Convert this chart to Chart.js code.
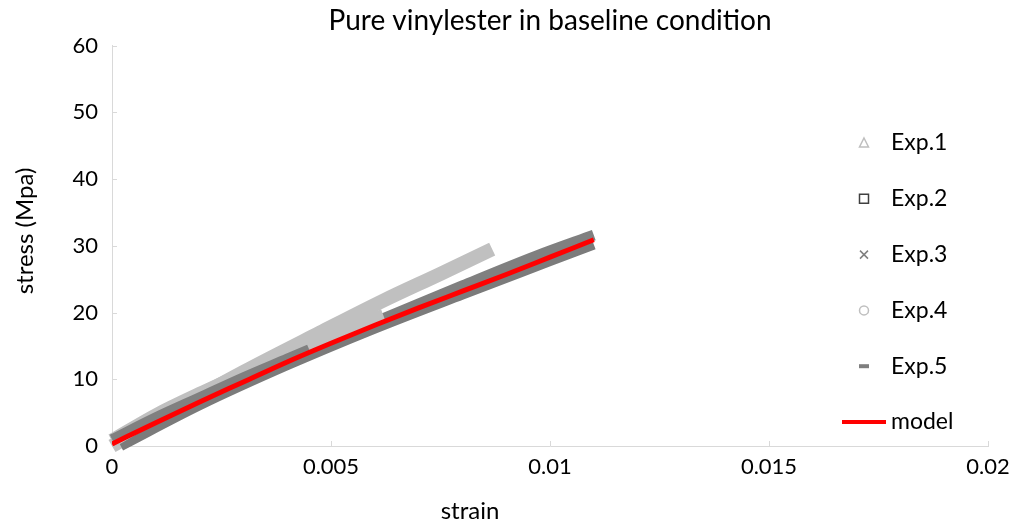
<!DOCTYPE html>
<html>
<head>
<meta charset="utf-8">
<script src="https://cdn.jsdelivr.net/npm/chart.js@4.4.0/dist/chart.umd.min.js"></script>
<style>
  html, body { margin: 0; padding: 0; background: #fff; }
</style>
</head>
<body>
<canvas id="chart" width="1018" height="527"></canvas>
<script>
// values (strain, stress in MPa)
const exp1Strain = [0, 0.0014, 0.003, 0.00475, 0.0062, 0.0075, 0.00868];
const exp1Stress = [0, 5.3, 11.1, 17.0, 21.8, 25.8, 29.5];

const exp2Strain = [0.0002, 0.002, 0.004, 0.006, 0.008, 0.010, 0.011];
const exp2Stress = [0, 6.1, 12.1, 17.6, 22.7, 27.7, 30.2];

const exp3Strain = [0, 0.002, 0.004, 0.0062, 0.008, 0.0097, 0.011];
const exp3Stress = [0.8, 7.2, 13.2, 19.1, 24.0, 28.5, 31.6];

const exp4Strain = [0, 0.001, 0.002, 0.003, 0.00475, 0.0062];
const exp4Stress = [0.8, 4.6, 7.8, 10.8, 15.9, 19.5];

const exp5Strain = [0, 0.001, 0.002, 0.003, 0.004, 0.0045];
const exp5Stress = [1.0, 4.3, 7.3, 10.3, 13.1, 14.5];

const modelStrain = [0, 0.001, 0.002, 0.003, 0.004, 0.005, 0.006, 0.007, 0.008, 0.009, 0.010, 0.011];
const modelStress = [0.3, 3.5, 6.6, 9.6, 12.6, 15.4, 18.1, 20.7, 23.2, 25.7, 28.3, 30.9];

const seriesLabels = ['Exp.1', 'Exp.2', 'Exp.3', 'Exp.4', 'Exp.5', 'model'];
const xTickLabels = ['0', '0.005', '0.01', '0.015', '0.02'];
const yTickLabels = ['0', '10', '20', '30', '40', '50', '60'];

const toPoints = (xs, ys) => xs.map((v, i) => ({ x: v, y: ys[i] }));

const FONT = 'Lato, "Open Sans", sans-serif';

const band = (label, xs, ys, color, width, marker, markerColor, order) => ({
  label,
  data: toPoints(xs, ys),
  showLine: true,
  borderColor: color,
  backgroundColor: color,
  borderWidth: width,
  borderCapStyle: 'butt',
  borderJoinStyle: 'round',
  pointRadius: 0,
  pointStyle: marker,
  pointBorderColor: markerColor,
  cubicInterpolationMode: 'monotone',
  clip: 8,
  order
});

// order: higher number is drawn first (further back), like the series order in the original
const datasets = [
  band(seriesLabels[0], exp1Strain, exp1Stress, '#c0c0c0', 14, 'triangle', '#bfbfbf', 6),
  band(seriesLabels[1], exp2Strain, exp2Stress, '#7b7b7b', 10, 'rect', '#404040', 5),
  band(seriesLabels[2], exp3Strain, exp3Stress, '#808080', 11, 'crossRot', '#7f7f7f', 4),
  band(seriesLabels[3], exp4Strain, exp4Stress, '#c0c0c0', 14, 'circle', '#bfbfbf', 3),
  band(seriesLabels[4], exp5Strain, exp5Stress, '#808080', 10, 'dash', '#7f7f7f', 2),
  {
    label: seriesLabels[5],
    data: toPoints(modelStrain, modelStress),
    showLine: true,
    borderColor: '#ff0000',
    borderWidth: 5,
    pointRadius: 0,
    pointStyle: 'line',
    pointBorderColor: '#ff0000',
    cubicInterpolationMode: 'monotone',
    order: 0
  }
];

function drawMarker(ctx, style, cx, cy, color) {
  ctx.save();
  ctx.strokeStyle = color;
  ctx.fillStyle = color;
  ctx.lineWidth = 1.5;
  ctx.beginPath();
  if (style === 'triangle') {
    ctx.moveTo(cx, cy - 5);
    ctx.lineTo(cx + 4.5, cy + 4);
    ctx.lineTo(cx - 4.5, cy + 4);
    ctx.closePath();
    ctx.stroke();
  } else if (style === 'rect') {
    ctx.rect(cx - 4.5, cy - 4.5, 9, 9);
    ctx.stroke();
  } else if (style === 'crossRot') {
    ctx.moveTo(cx - 4, cy - 4); ctx.lineTo(cx + 4, cy + 4);
    ctx.moveTo(cx + 4, cy - 4); ctx.lineTo(cx - 4, cy + 4);
    ctx.stroke();
  } else if (style === 'circle') {
    ctx.arc(cx, cy, 4.5, 0, Math.PI * 2);
    ctx.stroke();
  } else if (style === 'dash') {
    ctx.fillRect(cx - 5, cy - 2, 10, 4);
  } else if (style === 'line') {
    ctx.lineWidth = 4;
    ctx.moveTo(cx - 22, cy); ctx.lineTo(cx + 22, cy);
    ctx.stroke();
  }
  ctx.restore();
}

const overlay = {
  id: 'overlay',
  beforeDatasetsDraw(chart) {
    const { ctx, scales: { x, y } } = chart;
    ctx.save();
    ctx.strokeStyle = '#d9d9d9';
    ctx.lineWidth = 1;
    x.ticks.forEach(t => {
      const px = Math.round(x.getPixelForValue(t.value)) + 0.5;
      ctx.beginPath(); ctx.moveTo(px, y.bottom); ctx.lineTo(px, y.bottom - 5); ctx.stroke();
    });
    y.ticks.forEach(t => {
      const py = Math.round(y.getPixelForValue(t.value)) + 0.5;
      ctx.beginPath(); ctx.moveTo(x.left, py); ctx.lineTo(x.left + 5, py); ctx.stroke();
    });
    ctx.restore();
  },
  afterDatasetsDraw(chart) {
    const { ctx } = chart;
    ctx.save();
    ctx.fillStyle = '#000';
    ctx.font = '24px ' + FONT;
    ctx.textBaseline = 'middle';
    // axis titles
    ctx.textAlign = 'center';
    ctx.fillText('strain', 470, 511);
    ctx.save();
    ctx.translate(25, 231);
    ctx.rotate(-Math.PI / 2);
    ctx.fillText('stress (Mpa)', 0, 0);
    ctx.restore();
    // legend
    ctx.font = '23px ' + FONT;
    ctx.textAlign = 'left';
    chart.data.datasets.forEach((ds, i) => {
      const cy = 143 + i * 55.8;
      drawMarker(ctx, ds.pointStyle, 864, cy, ds.pointBorderColor);
      ctx.fillStyle = '#000';
      ctx.fillText(ds.label, 891, cy);
    });
    ctx.restore();
  }
};

new Chart(document.getElementById('chart'), {
  type: 'scatter',
  data: { datasets },
  plugins: [overlay],
  options: {
    responsive: false,
    animation: false,
    layout: { padding: { left: 0, right: 30, top: 0, bottom: 0 } },
    plugins: {
      legend: { display: false },
      tooltip: { enabled: false },
      title: {
        display: true,
        text: 'Pure vinylester in baseline condition',
        fullSize: false,
        color: '#000',
        font: { family: FONT, size: 28, weight: 'normal' },
        padding: { top: 4, bottom: 8 }
      }
    },
    scales: {
      x: {
        type: 'linear',
        min: 0,
        max: 0.02,
        afterFit: s => { s.height = 81; },
        afterBuildTicks: s => { s.ticks = xTickLabels.map(v => ({ value: parseFloat(v) })); },
        ticks: {
          color: '#000',
          padding: 8,
          maxRotation: 0,
          font: { family: FONT, size: 22 },
          callback: (v, i) => xTickLabels[i]
        },
        grid: { display: true, drawOnChartArea: false, drawTicks: false },
        border: { display: true, color: '#d9d9d9', width: 1 }
      },
      y: {
        type: 'linear',
        min: 0,
        max: 60,
        afterFit: s => { s.width = 112; },
        afterBuildTicks: s => { s.ticks = yTickLabels.map(v => ({ value: parseFloat(v) })); },
        ticks: {
          color: '#000',
          padding: 14,
          font: { family: FONT, size: 22 },
          callback: (v, i) => yTickLabels[i]
        },
        grid: { display: true, drawOnChartArea: false, drawTicks: false },
        border: { display: true, color: '#d9d9d9', width: 1 }
      }
    }
  }
});
</script>
</body>
</html>
